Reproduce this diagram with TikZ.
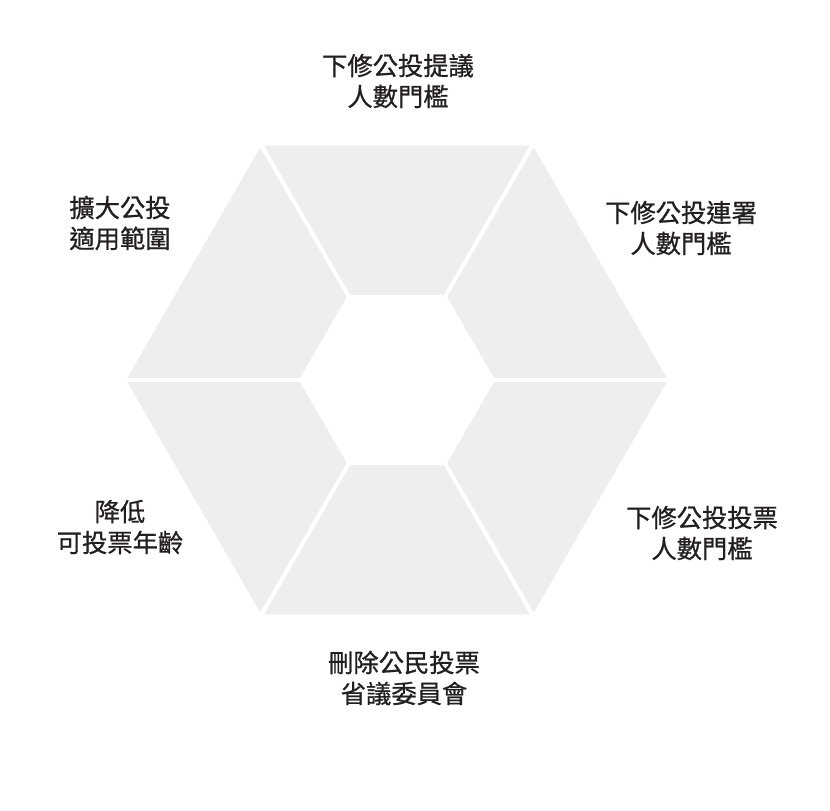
\documentclass[tikz,border=0pt]{standalone}
\usepackage{fontspec}
\setmainfont[FakeBold=0.8]{Noto Sans CJK TC}
\usetikzlibrary{calc}
\definecolor{hexgray}{HTML}{EEEEEE}
\definecolor{labelink}{HTML}{231F20}
\tikzset{
  label text/.style={align=center, text=labelink, font=\fontsize{14.4}{17.6}\selectfont, inner sep=0pt},
  gap line/.style={white, line width=2.3pt}
}
\begin{document}
\begin{tikzpicture}[x=0.02cm, y=-0.02cm]
\useasboundingbox (0,0) rectangle (830,810);
% Hexagon
\coordinate (c) at (397,380);
\fill[hexgray] ($(c)+(0:271)$) \foreach \a in {60,120,...,300} {-- ($(c)+(\a:271)$)} -- cycle;
\fill[white] ($(c)+(0:98)$) \foreach \a in {60,120,...,300} {-- ($(c)+(\a:98)$)} -- cycle;

% Gaps
\foreach \a in {0,60,...,300}
  \draw[gap line] ($(c)+(\a:96)$) -- ($(c)+(\a:274)$);

% Labels
\node[label text] (top) at (398,81) {下修公投提議\\人數門檻};
\node[label text] (topright) at (681,228) {下修公投連署\\人數門檻};
\node[label text] (botright) at (702,533) {下修公投投票\\人數門檻};
\node[label text] (bot) at (404,678) {刪除公民投票\\省議委員會};
\node[label text] (botleft) at (120,527) {降低\\可投票年齡};
\node[label text] (topleft) at (120,223) {擴大公投\\適用範圍};
\end{tikzpicture}
\end{document}
